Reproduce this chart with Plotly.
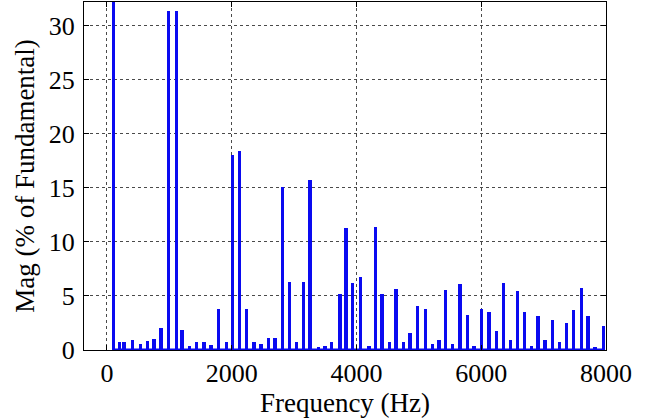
import plotly.graph_objects as go

# Harmonic spectrum: frequency of each component (Hz) and its magnitude (% of fundamental)
freq_hz = [
    101, 197, 273, 406, 540, 652, 753, 866, 983, 1117,
    1202, 1319, 1438, 1555, 1667, 1784, 1919, 2015, 2121, 2239,
    2357, 2469, 2586, 2693, 2817, 2922, 3041, 3147, 3254, 3388,
    3495, 3602, 3735, 3831, 3939, 4067, 4200, 4301, 4409, 4526,
    4633, 4750, 4858, 4974, 5103, 5215, 5322, 5430, 5542, 5659,
    5776, 5884, 6007, 6124, 6247, 6353, 6472, 6577, 6690, 6808,
    6909, 7021, 7139, 7251, 7363, 7481, 7604, 7711, 7823, 7956,
]
mag_pct = [
    100, 0.77, 0.77, 0.93, 0.6, 0.86, 1.0, 2.0, 31.4, 31.4,
    1.85, 0.37, 0.77, 0.77, 0.46, 3.77, 0.77, 18.05, 18.4, 3.8,
    0.77, 0.6, 1.08, 1.08, 15.06, 6.27, 0.77, 6.3, 15.7, 0.3,
    0.4, 0.77, 5.15, 11.27, 6.17, 6.8, 0.4, 11.4, 5.15, 0.77,
    5.6, 0.77, 1.54, 4.1, 3.83, 0.55, 0.93, 5.55, 0.52, 6.08,
    3.24, 0.4, 3.8, 3.55, 1.79, 6.23, 0.93, 5.46, 3.5, 0.4,
    3.15, 0.93, 2.78, 0.77, 2.47, 3.7, 5.7, 3.15, 0.3, 2.22,
]

x_ticks = [0, 2000, 4000, 6000, 8000]
y_ticks = [0, 5, 10, 15, 20, 25, 30]

BLUE = "#0a0af0"
FONT = "Liberation Serif"

fig = go.Figure()

# baseline under the spectral lines
fig.add_trace(go.Scatter(
    x=[freq_hz[0], freq_hz[-1]], y=[0, 0], mode="lines",
    line=dict(color=BLUE, width=3), hoverinfo="skip", showlegend=False,
))

fig.add_trace(go.Bar(
    x=freq_hz, y=mag_pct, width=54,
    marker=dict(color=BLUE, line=dict(width=0)),
    showlegend=False,
))

axis_common = dict(
    showline=True, linecolor="black", linewidth=1, mirror="allticks",
    ticks="inside", ticklen=5, tickcolor="black",
    showgrid=True, gridcolor="#4a4a4a", gridwidth=1, griddash="3px,3px",
    zeroline=False,
    tickfont=dict(family=FONT, size=26, color="black"),
    title_font=dict(family=FONT, size=27, color="black"),
)

fig.update_layout(
    width=648, height=419,
    margin=dict(l=84, r=42, t=2, b=69),
    paper_bgcolor="white", plot_bgcolor="white",
    bargap=0,
    xaxis=dict(
        range=[-368, 8000], tickvals=x_ticks,
        title=dict(text="Frequency (Hz)", standoff=2),
        **axis_common,
    ),
    yaxis=dict(
        range=[0, 32.2], tickvals=y_ticks, ticklabelstandoff=3,
        title=dict(text="Mag (% of Fundamental)", standoff=6),
        **axis_common,
    ),
)

fig.write_html("out.html")
